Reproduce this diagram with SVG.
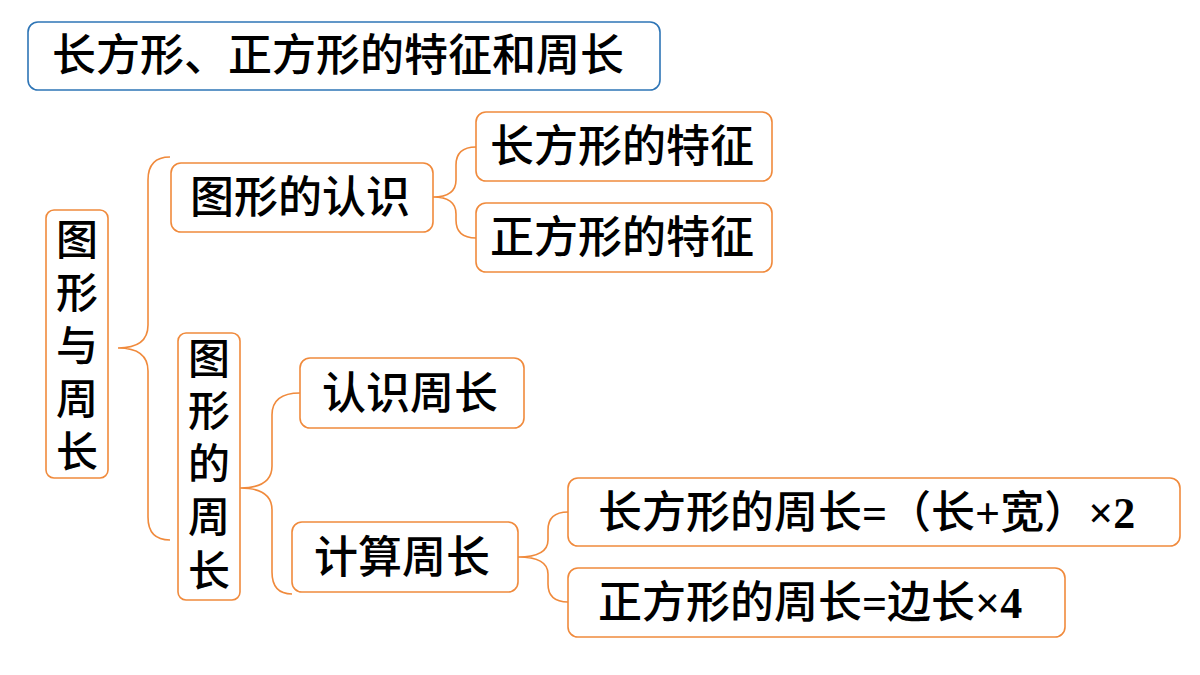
<svg xmlns="http://www.w3.org/2000/svg" width="1200" height="675" viewBox="0 0 1200 675">
<style>
.b{fill:#fff;stroke:#F08A3C;stroke-width:1.6}
.t{font-family:"Noto Sans CJK SC","Liberation Sans",sans-serif;font-size:44px;font-weight:500;fill:#000}
.v{font-size:42px}
.s{font-family:"Liberation Serif",serif;font-weight:bold}
.c{fill:none;stroke:#F08A3C;stroke-width:1.6}
</style>
<rect width="1200" height="675" fill="#fff"/>
<g id="title"><rect x="28" y="22" width="632" height="68" rx="10" fill="#fff" stroke="#2E75B6" stroke-width="1.6"/><text class="t" x="52" y="71">长方形、正方形的特征和周长</text></g>
<g id="connectors">
<path class="c" d="M170,157 Q148,157 148,180 L148,325 Q148,348 118,348 Q148,348 148,371 L148,517 Q148,540 170,540"/>
<path class="c" d="M476,147 Q456,147 456,165 L456,180 Q456,197 433,197 Q456,197 456,214 L456,220 Q456,238 476,238"/>
<path class="c" d="M300,393 Q272,393 272,415 L272,466 Q272,488 240,488 Q272,488 272,510 L272,572 Q272,594 292,594"/>
<path class="c" d="M568,512 Q548,512 548,530 L548,540 Q548,557 518,557 Q548,557 548,574 L548,584 Q548,602 568,602"/>
</g>
<g id="n1"><rect class="b" x="46" y="210" width="62" height="268" rx="8"/><text class="t v" text-anchor="middle"><tspan x="77" y="255">图</tspan><tspan x="77" y="308">形</tspan><tspan x="77" y="361">与</tspan><tspan x="77" y="414">周</tspan><tspan x="77" y="467">长</tspan></text></g>
<g id="n2"><rect class="b" x="171" y="163" width="262" height="69" rx="10"/><text class="t" x="190" y="213">图形的认识</text></g>
<g id="n3"><rect class="b" x="178" y="333" width="62" height="267" rx="8"/><text class="t v" text-anchor="middle"><tspan x="209" y="374">图</tspan><tspan x="209" y="426">形</tspan><tspan x="209" y="479">的</tspan><tspan x="209" y="532">周</tspan><tspan x="209" y="586">长</tspan></text></g>
<g id="n4"><rect class="b" x="476" y="112" width="296" height="69" rx="10"/><text class="t" x="490" y="162">长方形的特征</text></g>
<g id="n5"><rect class="b" x="476" y="203" width="296" height="69" rx="10"/><text class="t" x="490" y="253">正方形的特征</text></g>
<g id="n6"><rect class="b" x="300" y="358" width="224" height="70" rx="10"/><text class="t" x="322" y="409">认识周长</text></g>
<g id="n7"><rect class="b" x="292" y="522" width="226" height="70" rx="10"/><text class="t" x="314" y="573">计算周长</text></g>
<g id="n8"><rect class="b" x="568" y="478" width="612" height="68" rx="10"/><text class="t" x="598" y="528">长方形的周长<tspan class="s">=</tspan>（长<tspan class="s">+</tspan>宽）<tspan class="s">×2</tspan></text></g>
<g id="n9"><rect class="b" x="568" y="568" width="497" height="69" rx="10"/><text class="t" x="598" y="618">正方形的周长<tspan class="s">=</tspan>边长<tspan class="s">×4</tspan></text></g>
</svg>
